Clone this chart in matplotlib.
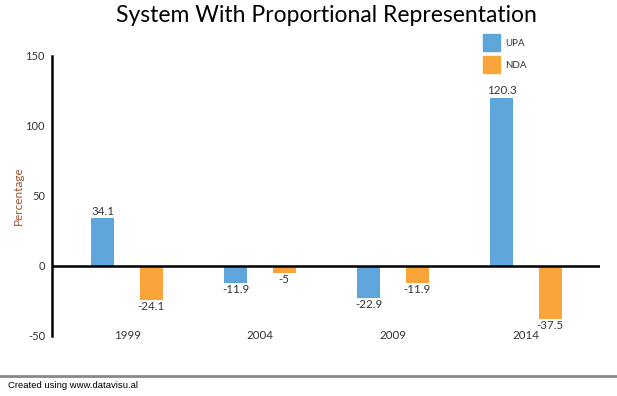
import matplotlib
matplotlib.use("Agg")
import matplotlib.pyplot as plt
from matplotlib.patches import Rectangle
from matplotlib.lines import Line2D

years = ["1999", "2004", "2009", "2014"]
upa = [34.1, -11.9, -22.9, 120.3]
nda = [-24.1, -5, -11.9, -37.5]
series_names = ["UPA", "NDA"]
colors = ["#5da5da", "#faa43a"]
yticks = [-50, 0, 50, 100, 150]

W, H = 617, 396
fig = plt.figure(figsize=(W / 100, H / 100), dpi=100)
font = "Lato"

ax_l, ax_r, ax_t, ax_b = 52, 600, 56, 336
ax = fig.add_axes([ax_l / W, 1 - ax_b / H, (ax_r - ax_l) / W, (ax_b - ax_t) / H])
ax.set_ylim(-50, 150)
ax.set_xlim(-0.564, 3.556)

x = list(range(len(years)))
bw = 0.173
off = 0.182
for i, (vals, c) in enumerate(zip([upa, nda], colors)):
    pos = [xi + (-off if i == 0 else off) for xi in x]
    ax.bar(pos, vals, width=bw, color=c, zorder=2)
    for p, v in zip(pos, vals):
        lab = f"{v:g}"
        if v >= 0:
            ax.text(p, v + 1, lab, ha="center", va="bottom", fontsize=8.3, family=font, color="#333333")
        else:
            ax.text(p, v - 1, lab, ha="center", va="top", fontsize=8.3, family=font, color="#333333")

ax.axhline(0, color="black", lw=1.8, zorder=3)
for s in ["top", "right", "bottom"]:
    ax.spines[s].set_visible(False)
ax.spines["left"].set_linewidth(1.8)
ax.spines["left"].set_color("black")

ax.set_yticks(yticks)
ax.set_yticklabels([str(t) for t in yticks], family=font, fontsize=8, color="#333333")
ax.tick_params(axis="y", length=0, pad=5)
ax.set_xticks(x)
ax.set_xticklabels(years, family=font, fontsize=8.3, color="#333333")
ax.tick_params(axis="x", length=0, pad=-4)
ax.set_ylabel("Percentage", family=font, fontsize=8.5, color="#a0522d", labelpad=1)

fig.text(326 / W, 1 - 16 / H, "System With Proportional Representation", ha="center", va="center",
         family=font, fontsize=16.5, color="black")

# legend
for i, (name, c) in enumerate(zip(series_names, colors)):
    y0 = 34 + i * 22
    fig.patches.append(Rectangle((483 / W, 1 - (y0 + 17) / H), 17 / W, 17 / H,
                                 transform=fig.transFigure, color=c))
    fig.text(505 / W, 1 - (y0 + 9) / H, name, va="center", ha="left", family=font,
             fontsize=7, color="#333333")

# footer
fig.lines.append(Line2D([0, 1], [1 - 376 / H, 1 - 376 / H], transform=fig.transFigure,
                        color="#888888", lw=2))
fig.text(8 / W, 1 - 386 / H, "Created using www.datavisu.al", va="center", ha="left",
         family="Liberation Sans", fontsize=6.8, color="black")

fig.savefig("out.png", dpi=100)
